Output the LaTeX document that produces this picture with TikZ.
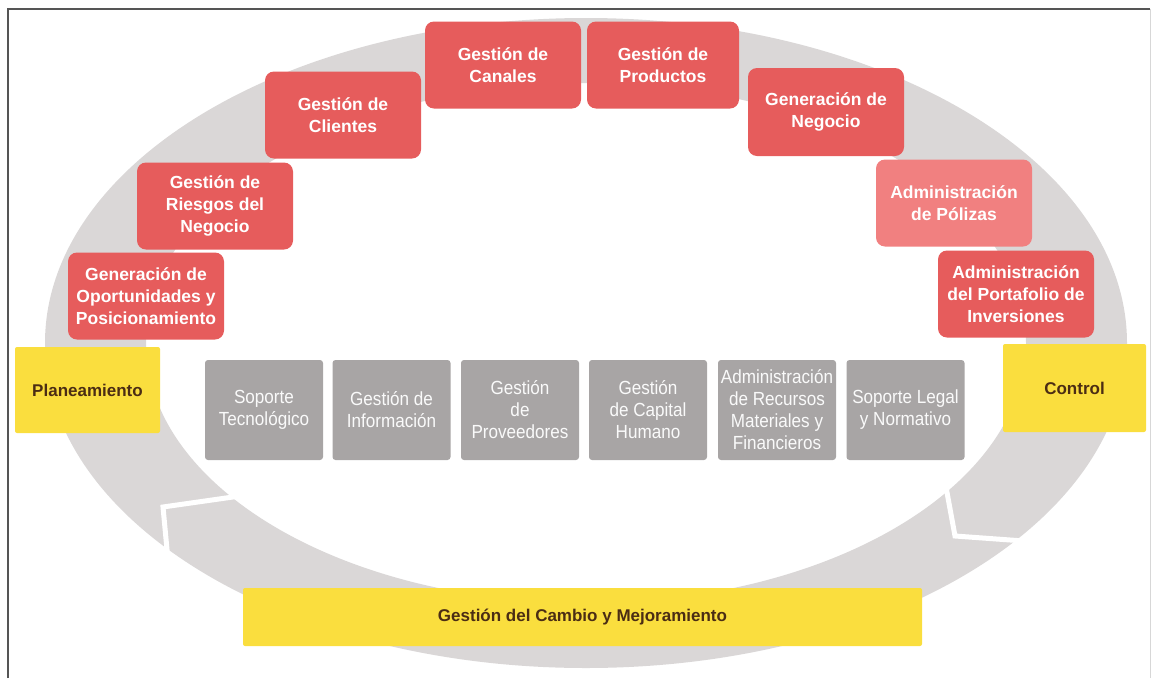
\documentclass[tikz,border=0pt]{standalone}
\usepackage{fontspec}
\setmainfont{Liberation Sans}
\newfontfamily\narrowfont[FakeStretch=0.9]{Liberation Sans}
\definecolor{ringgray}{RGB}{218,215,215}
\definecolor{boxred}{RGB}{230,92,92}
\definecolor{boxpink}{RGB}{241,128,128}
\definecolor{boxyellow}{RGB}{250,222,62}
\definecolor{boxgray}{RGB}{168,165,165}
\definecolor{ytext}{RGB}{75,45,20}
\definecolor{framegray}{RGB}{85,85,85}
\definecolor{framelight}{RGB}{215,215,215}
\tikzset{
  redbox/.style={fill=boxred, rounded corners=9pt, minimum width=156pt, minimum height=87pt,
    align=center, text=white, inner sep=0pt, font=\fontsize{17.5pt}{22pt}\selectfont\bfseries},
  yellowbox/.style={fill=boxyellow, rounded corners=2pt, align=center, text=ytext, inner sep=0pt,
    font=\fontsize{17pt}{21pt}\selectfont\bfseries},
  graybox/.style={fill=boxgray, rounded corners=3pt, minimum width=118pt, minimum height=100pt,
    align=center, text=white!94!boxgray, inner sep=0pt, font=\narrowfont\fontsize{19pt}{22pt}\selectfont},
  chevron/.style={white, line width=5pt, line join=miter}
}
\begin{document}
\begin{tikzpicture}[x=1pt,y=-1pt]
\useasboundingbox (0,0) rectangle (1152,678);
% ring
\fill[ringgray, even odd rule] (586,343) ellipse [x radius=541pt, y radius=325pt]
  (586,343) ellipse [x radius=440pt, y radius=260pt];
% chevron gaps of the circular arrow
\draw[chevron] (240,496) -- (163,507) -- (168,560);
\draw[chevron] (944,476) -- (955,536) -- (1024,541);
% frame
\draw[framegray, line width=1.5pt] (8,678) -- (8,9) -- (1150,9);
\draw[framelight, line width=1pt] (1150,9) -- (1150,678);
% red boxes
\node[redbox] (canales) at (503,65) {Gestión de\\Canales};
\node[redbox, minimum width=152pt] (productos) at (663,65) {Gestión de\\Productos};
\node[redbox] (clientes) at (343,115) {Gestión de\\Clientes};
\node[redbox, minimum height=88pt] (negocio) at (826,112) {Generación de\\Negocio};
\node[redbox] (riesgos) at (215,206) {Gestión de\\Riesgos del\\Negocio};
\node[redbox, fill=boxpink] (polizas) at (954,203) {Administración\\de Pólizas};
\node[redbox] (oportunidades) at (146,296) {Generación de\\Oportunidades y\\Posicionamiento};
\node[redbox] (portafolio) at (1016,294) {Administración\\del Portafolio de\\Inversiones};
% yellow boxes
\node[yellowbox, minimum width=145pt, minimum height=86pt] (plan) at (87.5,390) {Planeamiento};
\node[yellowbox, minimum width=143pt, minimum height=88pt] (control) at (1074.5,388) {Control};
\node[yellowbox, minimum width=679pt, minimum height=58pt] (cambio) at (582.5,617) {Gestión del Cambio y Mejoramiento};
% gray boxes
\node[graybox] (soporte) at (264,410) {Soporte\\Tecnológico};
\node[graybox] (informacion) at (391.5,410) {Gestión de\\Información};
\node[graybox] (proveedores) at (520,410) {Gestión\\de\\Proveedores};
\node[graybox] (capital) at (648,410) {Gestión\\de Capital\\Humano};
\node[graybox] (recursos) at (777,410) {Administración\\de Recursos\\Materiales y\\Financieros};
\node[graybox] (legal) at (905.5,410) {Soporte Legal\\y Normativo};
\end{tikzpicture}
\end{document}
